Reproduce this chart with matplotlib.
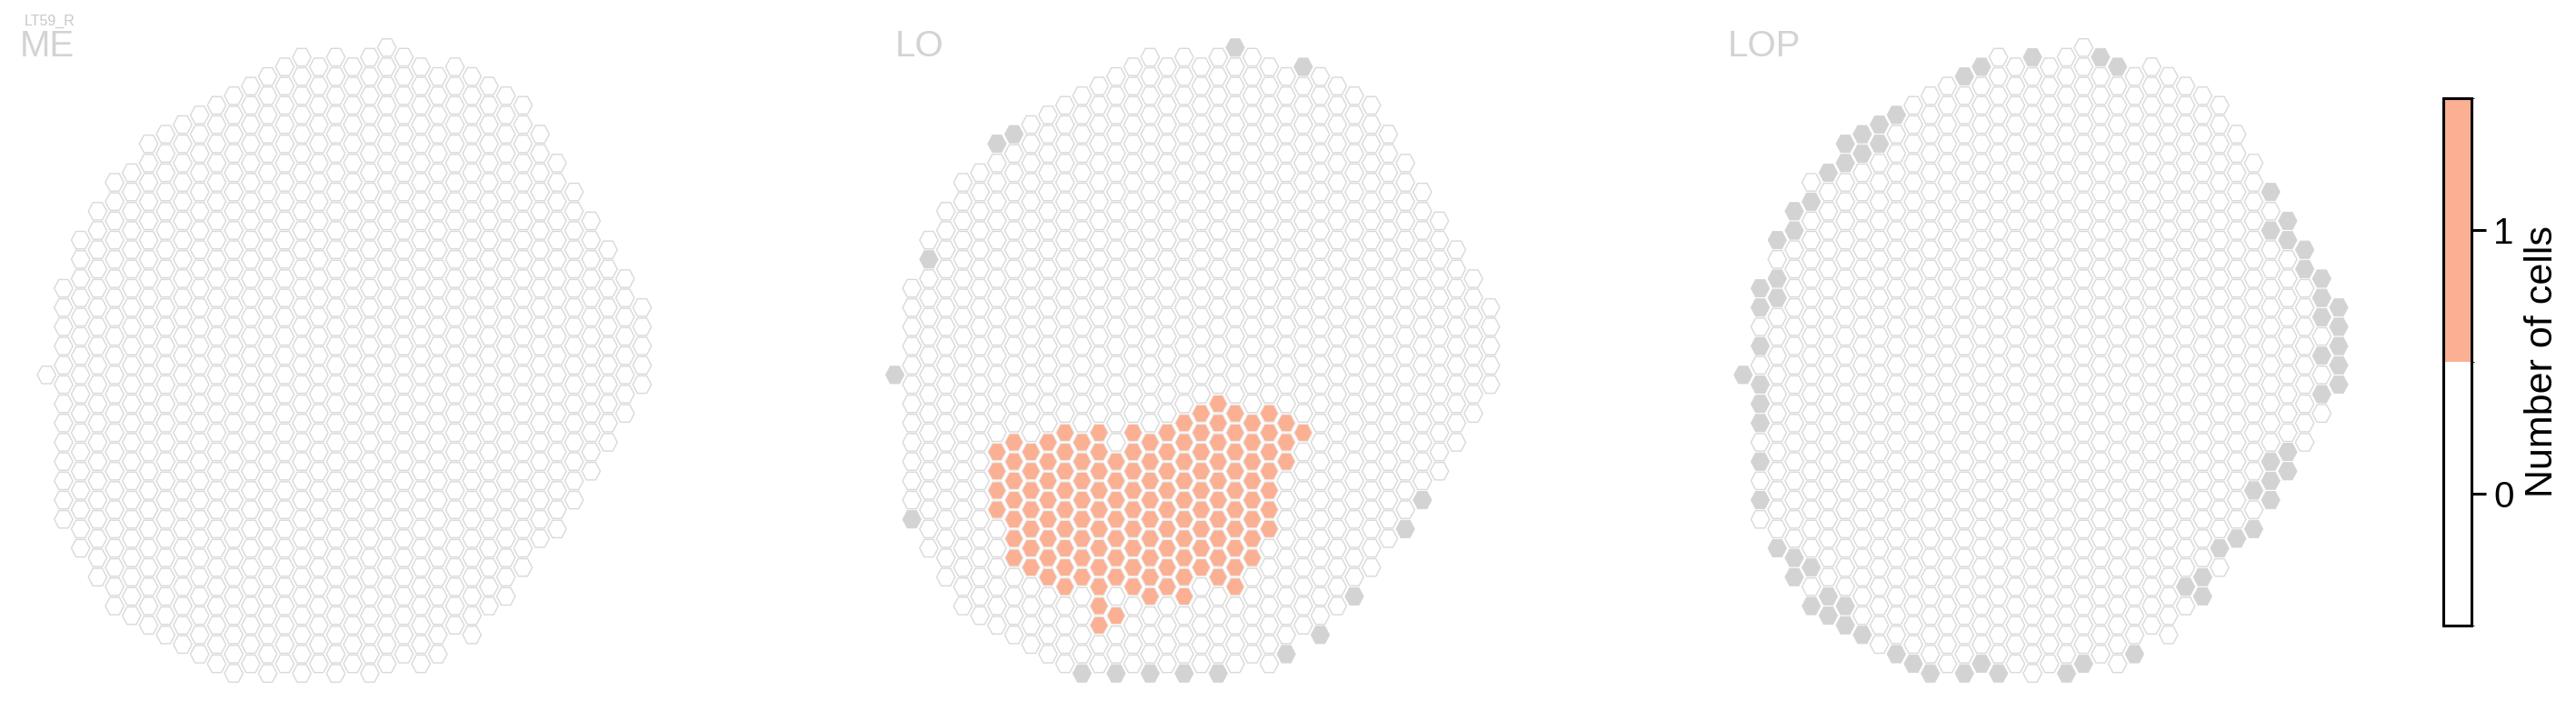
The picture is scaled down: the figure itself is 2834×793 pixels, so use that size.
import matplotlib
matplotlib.use("Agg")
import matplotlib.pyplot as plt
from matplotlib.collections import PolyCollection
from matplotlib.colors import ListedColormap, BoundaryNorm
import matplotlib.colorbar as mcolorbar

# hex grid: for every column, first and last half-row index (rows step by 2)
COL_TOP = [34, 25, 20, 17, 14, 13, 10, 9, 8, 7, 6, 5, 4, 3, 2, 1, 2, 1,
           2, 1, 0, 1, 2, 3, 2, 3, 4, 5, 6, 9, 12, 15, 18, 21, 24, 27]
COL_BOTTOM = [34, 49, 52, 55, 58, 59, 60, 61, 62, 63, 64, 65, 64, 65, 64, 65, 64, 65,
              64, 65, 64, 63, 64, 63, 60, 61, 58, 57, 54, 51, 50, 47, 44, 41, 38, 35]

PANELS = ["ME", "LO", "LOP"]
NEURON = "LT59_R"

# grey columns (col, half-row) per panel
ME_GREY = []
LO_GREY = [(20, 0), (24, 2), (7, 9), (6, 10), (2, 22), (0, 34), (1, 49),
           (11, 65), (13, 65), (15, 65), (17, 65), (19, 65),
           (23, 63), (25, 61), (27, 57), (30, 50), (31, 47)]
LOP_GREY = [(17, 1), (21, 1), (14, 2), (22, 2), (13, 3), (9, 7), (8, 8), (7, 9),
            (8, 10), (6, 10), (7, 11), (6, 12), (5, 13), (4, 16), (3, 17), (3, 19),
            (2, 20), (2, 24), (1, 25), (2, 26), (1, 27), (1, 31), (0, 34), (1, 35),
            (1, 37), (1, 39), (1, 43), (1, 47), (2, 52), (3, 53), (4, 54), (3, 55),
            (5, 57), (4, 58), (6, 58), (5, 59), (6, 60), (7, 61), (9, 63), (10, 64),
            (11, 65), (13, 65), (14, 64), (15, 65), (19, 65), (20, 64), (23, 63),
            (31, 15), (32, 18), (31, 19), (32, 20), (33, 21), (33, 23), (34, 24),
            (34, 26), (35, 27), (34, 28), (35, 29), (35, 31), (34, 32), (35, 33),
            (35, 35), (34, 36), (32, 42), (31, 43), (32, 44), (31, 45), (30, 46),
            (31, 47), (30, 50), (29, 51), (28, 52), (27, 55), (26, 56), (27, 57)]

# columns with 1 cell (LO only)
LO_ORANGE_COL = [6, 7, 8, 9, 10, 11, 12, 13, 14, 15, 16, 17, 18, 19, 20, 21, 22, 23, 24]
LO_ORANGE_TOP = [42, 41, 42, 41, 40, 41, 40, 43, 40, 41, 40, 39, 38, 37, 38, 39, 38, 39, 40]
LO_ORANGE_BOTTOM = [48, 53, 54, 55, 56, 55, 56, 55, 56, 57, 56, 57, 54, 55, 56, 53, 50, 43, 40]
LO_ORANGE_EXTRA = [(12, 58), (12, 60), (13, 59)]

CB_TICKS = [0, 1]
CB_LABEL = "Number of cells"

ORANGE = "#fbb093"
GREY = "#d3d3d3"
EDGE = "#d9d9d9"
TITLE_GREY = "#d3d3d3"

W, H = 2834, 793
DX, DH = 18.72, 10.59          # pixels per column / per half-row
COL0_PX = [51.2, 984.5, 1917.8]
ROW0_PX = 52.3
HALF_W, HALF_H = 10.2, 9.6


def grid_cells():
    cells = []
    for c, (t, b) in enumerate(zip(COL_TOP, COL_BOTTOM)):
        cells += [(c, h) for h in range(t, b + 1, 2)]
    return cells


def orange_cells():
    cells = []
    for c, t, b in zip(LO_ORANGE_COL, LO_ORANGE_TOP, LO_ORANGE_BOTTOM):
        cells += [(c, h) for h in range(t, b + 1, 2)]
    return cells + LO_ORANGE_EXTRA


def hexes(cells):
    a, b = HALF_W / DX, HALF_H / DH
    return [[(c - a, -h), (c - a / 2, -h + b), (c + a / 2, -h + b),
             (c + a, -h), (c + a / 2, -h - b), (c - a / 2, -h - b)] for c, h in cells]


fig = plt.figure(figsize=(W / 100, H / 100), dpi=100)
fig.patch.set_facecolor("white")

all_cells = grid_cells()
panel_grey = [ME_GREY, LO_GREY, LOP_GREY]
panel_orange = [[], orange_cells(), []]
title_x = [22, 985, 1901]

for i, name in enumerate(PANELS):
    x0, w = COL0_PX[i] - 40, 740
    ax = fig.add_axes([x0 / W, 0, w / W, 1])
    ax.set_xlim((x0 - COL0_PX[i]) / DX, (x0 + w - COL0_PX[i]) / DX)
    ax.set_ylim(-(H - ROW0_PX) / DH, ROW0_PX / DH)
    ax.axis("off")
    grey = set(panel_grey[i])
    orange = set(panel_orange[i])
    empty = [cell for cell in all_cells if cell not in grey and cell not in orange]
    ax.add_collection(PolyCollection(hexes(empty), facecolors="white",
                                     edgecolors=EDGE, linewidths=1.0))
    if grey:
        ax.add_collection(PolyCollection(hexes(sorted(grey)), facecolors=GREY,
                                         edgecolors=GREY, linewidths=0.6))
    if orange:
        ax.add_collection(PolyCollection(hexes(sorted(orange)), facecolors=ORANGE,
                                         edgecolors="#eeeeee", linewidths=0.9))
    fig.text(title_x[i] / W, 1 - 62 / H, name, fontsize=29, color=TITLE_GREY,
             family="Liberation Sans", va="baseline", ha="left")

fig.text(27 / W, 1 - 28 / H, NEURON, fontsize=11.5, color="#c8c8c8",
         family="Liberation Sans", va="baseline", ha="left")

# discrete colorbar
cax = fig.add_axes([2688 / W, 1 - 688 / H, 31 / W, 580 / H])
cmap = ListedColormap(["white", ORANGE])
norm = BoundaryNorm([-0.5, 0.5, 1.5], cmap.N)
cb = mcolorbar.ColorbarBase(cax, cmap=cmap, norm=norm, ticks=CB_TICKS)
cb.outline.set_linewidth(2.2)
cax.tick_params(length=11.5, width=2.2, labelsize=29, pad=6)
for t in cax.get_yticklabels():
    t.set_family("Liberation Sans")
cb.set_label(CB_LABEL, fontsize=31, family="Liberation Sans", labelpad=8)

fig.savefig("out.png", dpi=100, facecolor="white")
